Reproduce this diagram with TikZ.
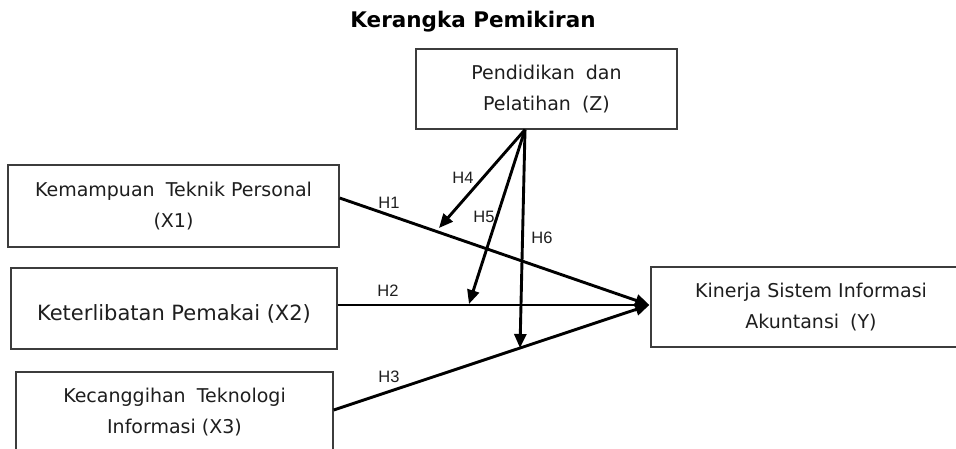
\documentclass[tikz,border=0pt]{standalone}
\usepackage{fontspec}
\setmainfont{DejaVu Sans}
\newfontfamily\labfont{Liberation Sans}
\usetikzlibrary{arrows.meta,calc}
\definecolor{boxgray}{HTML}{3C3C3C}
\definecolor{textgray}{HTML}{1E1E1E}
\begin{document}
\begin{tikzpicture}[x=1pt,y=-1pt,
  box/.style={draw=boxgray,line width=1.3pt,inner sep=0pt,align=center,text=textgray,
    font=\fontsize{19}{31}\selectfont},
  link/.style={line width=2.9pt,-{Triangle[length=14pt,width=12pt]}},
  hlab/.style={font=\labfont\fontsize{16.5}{16.5}\selectfont,text=textgray,inner sep=0pt}]
\useasboundingbox (0,0) rectangle (956,448);
\clip (0,0) rectangle (956,448);
\fill[white] (0,0) rectangle (956,448);

\node[font=\bfseries\fontsize{21.5}{24}\selectfont,anchor=base,text=black] (title) at (473,27) {Kerangka Pemikiran};

\node[box,minimum width=261pt,minimum height=80pt] (Z) at (546.5,89) {Pendidikan\hspace{5pt} dan\\Pelatihan\hspace{5pt} (Z)};
\node[box,minimum width=331pt,minimum height=82pt] (X1) at (173.5,206) {Kemampuan\hspace{5pt} Teknik Personal\\(X1)};
\node[box,minimum width=326pt,minimum height=81pt,text height=23pt,text depth=0pt,
  font=\fontsize{21}{25}\selectfont] (X2) at (174,308.5) {Keterlibatan Pemakai (X2)};
\node[box,minimum width=317pt,minimum height=81pt] (X3) at (174.5,412.5) {Kecanggihan\hspace{5pt} Teknologi\\Informasi (X3)};
\node[box,minimum width=320pt,minimum height=80pt] (Y) at (811,307) {Kinerja Sistem Informasi\\Akuntansi\hspace{5pt} (Y)};

\coordinate (zs) at ($(Z.south)+(-21.5,0)$);
\coordinate (yin) at ($(Y.west)+(-1,-2)$);
\coordinate (h4e) at (439,228);
\coordinate (h5e) at (469,304);
\coordinate (h6e) at (520,348);

\draw[link] ($(X1.east)+(0,-8)$) -- (yin);
\draw[link] ($(X2.east)+(0,-3.5)$) -- (yin);
\draw[link] ($(X3.east)+(0,-2.5)$) -- (yin);
\draw[link] (zs) -- (h4e);
\draw[link] (zs) -- (h5e);
\draw[link] (zs) -- (h6e);

\node[hlab] (H1) at (389,203) {H1};
\node[hlab] (H2) at (388,291) {H2};
\node[hlab] (H3) at (389,377) {H3};
\node[hlab] (H4) at (463,178) {H4};
\node[hlab] (H5) at (484,217) {H5};
\node[hlab] (H6) at (542,238) {H6};
\end{tikzpicture}
\end{document}
